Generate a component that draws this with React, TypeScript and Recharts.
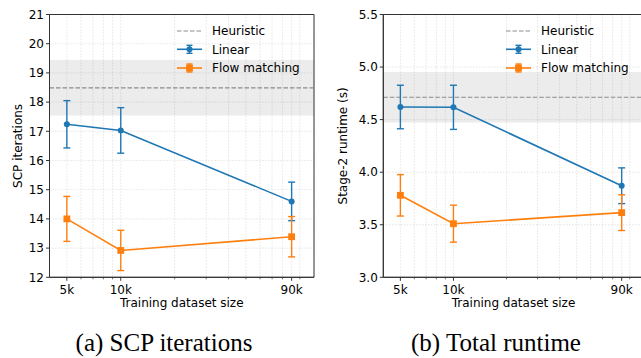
import React from 'react';
import {
  LineChart,
  Line,
  XAxis,
  YAxis,
  CartesianGrid,
  ErrorBar,
  ReferenceArea,
  ReferenceLine,
  Legend,
} from 'recharts';

// ---------- data ----------
const sizes = [5000, 10000, 90000];
const sizeLabels = ['5k', '10k', '90k'];
const minorTicks = [6000, 7000, 8000, 9000, 20000, 30000, 40000, 50000, 60000, 70000, 80000, 100000];

const scpLinear = [17.24, 17.03, 14.6];
const scpLinearErr = [0.81, 0.78, 0.66];
const scpFlow = [14.0, 12.92, 13.39];
const scpFlowErr = [0.77, 0.69, 0.69];
const scpHeuristic = 18.49;
const scpHeuristicStd = 0.95;
const scpTicks = [12, 13, 14, 15, 16, 17, 18, 19, 20, 21];

const rtLinear = [4.62, 4.617, 3.871];
const rtLinearErr = [0.207, 0.21, 0.17];
const rtFlow = [3.78, 3.51, 3.615];
const rtFlowErr = [0.197, 0.176, 0.17];
const rtHeuristic = 4.713;
const rtHeuristicStd = 0.24;
const rtTicks = [3.0, 3.5, 4.0, 4.5, 5.0, 5.5];

const BLUE = '#1f77b4';
const ORANGE = '#ff7f0e';
const HEUR = '#8c8c8c';
const AXIS = '#333333';
const FONT = 'DejaVu Sans';
const X_DOMAIN: [number, number] = [4000, 120000];

const allXTicks = [...sizes, ...minorTicks].sort((a, b) => a - b);

function buildRows(lin: number[], linErr: number[], flow: number[], flowErr: number[]) {
  return sizes.map((s, i) => ({
    size: s,
    linear: lin[i],
    linearErr: linErr[i],
    flow: flow[i],
    flowErr: flowErr[i],
  }));
}

const XTick = (props: any) => {
  const { x, y, payload } = props;
  const v = payload.value;
  const i = sizes.indexOf(v);
  const major = i >= 0;
  return (
    <g>
      <line x1={x} x2={x} y1={y} y2={y + (major ? 3.5 : 2)} stroke={AXIS} strokeWidth={major ? 1 : 0.7} />
      {major && (
        <text x={x} y={y + 16.2} textAnchor="middle" fontSize={12} fontFamily={FONT} fill="#000">
          {sizeLabels[i]}
        </text>
      )}
    </g>
  );
};

const SquareDot = (props: any) => {
  const { cx, cy } = props;
  if (cx == null || cy == null) return null;
  return <rect x={cx - 3.4} y={cy - 3.4} width={6.8} height={6.8} fill={ORANGE} />;
};

const LegendBox = () => (
  <svg width={150} height={60} style={{ display: 'block' }}>
    <line x1={7} x2={32} y1={11} y2={11} stroke={HEUR} strokeDasharray="4.5 2" strokeWidth={1.2} />
    <text x={42} y={11} dy="0.36em" fontSize={12} fontFamily={FONT} fill="#000">Heuristic</text>

    <line x1={7} x2={32} y1={29.3} y2={29.3} stroke={BLUE} strokeWidth={1.6} />
    <line x1={19.5} x2={19.5} y1={25.3} y2={33.3} stroke={BLUE} strokeWidth={1.4} />
    <line x1={16.5} x2={22.5} y1={25.3} y2={25.3} stroke={BLUE} strokeWidth={1.4} />
    <line x1={16.5} x2={22.5} y1={33.3} y2={33.3} stroke={BLUE} strokeWidth={1.4} />
    <circle cx={19.5} cy={29.3} r={3} fill={BLUE} />
    <text x={42} y={29.3} dy="0.36em" fontSize={12} fontFamily={FONT} fill="#000">Linear</text>

    <line x1={7} x2={32} y1={48} y2={48} stroke={ORANGE} strokeWidth={1.6} />
    <line x1={19.5} x2={19.5} y1={44} y2={52} stroke={ORANGE} strokeWidth={1.4} />
    <line x1={16.5} x2={22.5} y1={44} y2={44} stroke={ORANGE} strokeWidth={1.4} />
    <line x1={16.5} x2={22.5} y1={52} y2={52} stroke={ORANGE} strokeWidth={1.4} />
    <rect x={16.1} y={44.6} width={6.8} height={6.8} fill={ORANGE} />
    <text x={42} y={48} dy="0.36em" fontSize={12} fontFamily={FONT} fill="#000">Flow matching</text>
  </svg>
);

type PanelProps = {
  width: number;
  plotLeft: number;
  plotRight: number;
  data: any[];
  yDomain: [number, number];
  yTicks: number[];
  yFmt: (v: number) => string;
  heuristic: number;
  heuristicStd: number;
  yTitle: string;
  yTitleX: number;
  legendLeft: number;
};

const PLOT_TOP = 14.5;
const PLOT_BOTTOM = 277.3;
const HEIGHT = 358;
const XAXIS_H = 30;

const Panel = (p: PanelProps) => {
  const centerX = (p.plotLeft + p.plotRight) / 2;
  const centerY = (PLOT_TOP + PLOT_BOTTOM) / 2;
  return (
    <LineChart
      width={p.width}
      height={HEIGHT}
      data={p.data}
      margin={{ top: PLOT_TOP, right: p.width - p.plotRight, bottom: HEIGHT - PLOT_BOTTOM - XAXIS_H, left: 0 }}
    >
      <ReferenceArea y1={p.heuristic - p.heuristicStd} y2={p.heuristic + p.heuristicStd} fill="#808080" fillOpacity={0.15} stroke="none" ifOverflow="visible" />
      <CartesianGrid stroke="#cfcfcf" strokeDasharray="1 2" strokeWidth={0.8} />
      <XAxis
        dataKey="size"
        type="number"
        scale="log"
        domain={X_DOMAIN}
        allowDataOverflow
        ticks={allXTicks}
        interval={0}
        tickSize={0}
        tickMargin={0}
        tickLine={false}
        tick={(props: any) => <XTick {...props} />}
        axisLine={{ stroke: AXIS, strokeWidth: 1 }}
        height={XAXIS_H}
        label={{
          content: () => (
            <text x={centerX} y={307} textAnchor="middle" fontSize={12} fontFamily={FONT} fill="#000">
              Training dataset size
            </text>
          ),
        }}
      />
      <YAxis
        type="number"
        domain={p.yDomain}
        allowDataOverflow
        ticks={p.yTicks}
        interval={0}
        tickFormatter={p.yFmt}
        width={p.plotLeft}
        tickSize={3.5}
        tickMargin={2}
        tickLine={{ stroke: AXIS, strokeWidth: 1 }}
        axisLine={{ stroke: AXIS, strokeWidth: 1 }}
        tick={{ fontSize: 12, fontFamily: FONT, fill: '#000' }}
        label={{
          content: () => (
            <text
              x={p.yTitleX}
              y={centerY}
              textAnchor="middle"
              fontSize={12}
              fontFamily={FONT}
              fill="#000"
              transform={`rotate(-90 ${p.yTitleX} ${centerY})`}
            >
              {p.yTitle}
            </text>
          ),
        }}
      />
      <ReferenceLine y={p.heuristic} stroke={HEUR} strokeDasharray="4.5 2" strokeWidth={1.2} />
      <Line
        dataKey="linear"
        stroke={BLUE}
        strokeWidth={1.6}
        dot={{ r: 3, fill: BLUE, stroke: BLUE, strokeWidth: 0 }}
        activeDot={false}
        isAnimationActive={false}
      >
        <ErrorBar dataKey="linearErr" width={3.5} strokeWidth={1.4} stroke={BLUE} direction="y" isAnimationActive={false} />
      </Line>
      <Line
        dataKey="flow"
        stroke={ORANGE}
        strokeWidth={1.6}
        dot={(props: any) => <SquareDot key={`sq-${props.index}`} {...props} />}
        activeDot={false}
        isAnimationActive={false}
      >
        <ErrorBar dataKey="flowErr" width={3.5} strokeWidth={1.4} stroke={ORANGE} direction="y" isAnimationActive={false} />
      </Line>
      <ReferenceArea
        x1={X_DOMAIN[0]}
        x2={X_DOMAIN[1]}
        y1={p.yDomain[0]}
        y2={p.yDomain[1]}
        fill="none"
        stroke={AXIS}
        strokeWidth={1}
        ifOverflow="visible"
      />
      <Legend
        layout="vertical"
        align="center"
        verticalAlign="middle"
        content={() => <LegendBox />}
        wrapperStyle={{ left: p.legendLeft, top: 20, width: 150, height: 60, right: 'auto', bottom: 'auto' }}
      />
    </LineChart>
  );
};

const scpRows = buildRows(scpLinear, scpLinearErr, scpFlow, scpFlowErr);
const rtRows = buildRows(rtLinear, rtLinearErr, rtFlow, rtFlowErr);

export default function App() {
  return (
    <div style={{ position: 'absolute', left: 0, top: 0, width: 641, height: 358, overflow: 'hidden', background: '#fff' }}>
      <div style={{ position: 'absolute', left: 0, top: 0 }}>
        <Panel
          width={320}
          plotLeft={49.5}
          plotRight={314}
          data={scpRows}
          yDomain={[12, 21]}
          yTicks={scpTicks}
          yFmt={(v) => String(v)}
          heuristic={scpHeuristic}
          heuristicStd={scpHeuristicStd}
          yTitle="SCP iterations"
          yTitleX={22}
          legendLeft={170}
        />
      </div>
      <div style={{ position: 'absolute', left: 320, top: 0 }}>
        <Panel
          width={330}
          plotLeft={63.3}
          plotRight={323.7}
          data={rtRows}
          yDomain={[3.0, 5.5]}
          yTicks={rtTicks}
          yFmt={(v) => v.toFixed(1)}
          heuristic={rtHeuristic}
          heuristicStd={rtHeuristicStd}
          yTitle="Stage-2 runtime (s)"
          yTitleX={27.4}
          legendLeft={178.7}
        />
      </div>
      <svg width={641} height={358} style={{ position: 'absolute', left: 0, top: 0, pointerEvents: 'none' }}>
        <text x={164} y={351} textAnchor="middle" fontSize={25} fontFamily="Liberation Serif" fill="#000">
          (a) SCP iterations
        </text>
        <text x={496} y={351} textAnchor="middle" fontSize={25} fontFamily="Liberation Serif" fill="#000">
          (b) Total runtime
        </text>
      </svg>
    </div>
  );
}
